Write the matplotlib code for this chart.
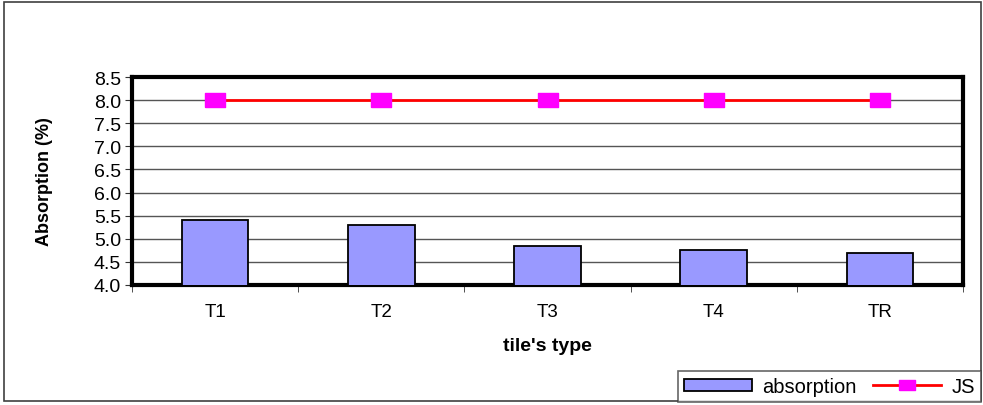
import matplotlib
matplotlib.use("Agg")
import matplotlib.pyplot as plt
from matplotlib.patches import Rectangle

plt.rcParams['font.family'] = ['Liberation Sans', 'DejaVu Sans']

categories = ["T1", "T2", "T3", "T4", "TR"]
absorption = [5.4, 5.3, 4.84, 4.76, 4.7]
js_limit = [8.0, 8.0, 8.0, 8.0, 8.0]
yticks = [4.0, 4.5, 5.0, 5.5, 6.0, 6.5, 7.0, 7.5, 8.0, 8.5]

W, H = 983, 406
fig = plt.figure(figsize=(W / 100, H / 100), dpi=100)

# outer chart border
fig.patches.append(Rectangle((4 / W, 4 / H), 977 / W, 399 / H, transform=fig.transFigure,
                             fill=False, edgecolor='#404040', linewidth=1.2))

ax = fig.add_axes([132 / W, 1 - 286 / H, 831 / W, 208 / H])
x = list(range(len(categories)))

bars = ax.bar(x, absorption, width=0.4, bottom=0, color='#9999ff', edgecolor='black',
              linewidth=1.3, zorder=3, label='absorption')

rect_marker = [(-1.45, -1), (1.45, -1), (1.45, 1), (-1.45, 1), (-1.45, -1)]
line, = ax.plot(x, js_limit, color='red', linewidth=2, marker=rect_marker, markersize=14,
                markerfacecolor='#ff00ff', markeredgecolor='#ff00ff', zorder=4, label='JS')

ax.set_xlim(-0.5, len(categories) - 0.5)
ax.set_ylim(4.0, 8.5)
ax.set_yticks(yticks)
ax.set_yticklabels([f"{v:.1f}" for v in yticks], fontsize=14)
ax.yaxis.grid(True, color='#555555', linewidth=1, zorder=0)
ax.set_axisbelow(True)

ax.set_xticks(x)
ax.set_xticklabels(categories, fontsize=13.5)
ax.tick_params(axis='x', length=0, pad=13)
ax.set_xticks([i + 0.5 for i in range(-1, len(categories))], minor=True)
ax.tick_params(axis='x', which='minor', length=5, direction='out', color='#333333')
ax.tick_params(axis='y', length=5, direction='out', pad=3, color='#333333')

for side in ['left', 'right', 'top', 'bottom']:
    ax.spines[side].set_linewidth(3)
    ax.spines[side].set_color('black')

ax.set_xlabel("tile's type", fontsize=14, fontweight='bold', labelpad=12)
ax.set_ylabel("Absorption (%)", fontsize=13, fontweight='bold',
              family=['Liberation Sans Narrow', 'Liberation Sans'])
ax.yaxis.set_label_coords(-0.095, 0.5)

leg = fig.legend([bars, line], ['absorption', 'JS'], loc='lower right',
                 bbox_to_anchor=(981 / W, 3 / H), ncol=2,
                 fontsize=14.5, frameon=True, fancybox=False, edgecolor='#404040',
                 handlelength=3.4, handleheight=0.55, columnspacing=0.8,
                 handletextpad=0.5, borderpad=0.3, borderaxespad=0)
leg.get_frame().set_linewidth(1.2)
leg.legend_handles[1].set_markersize(11)

fig.savefig("out.png", dpi=100)
